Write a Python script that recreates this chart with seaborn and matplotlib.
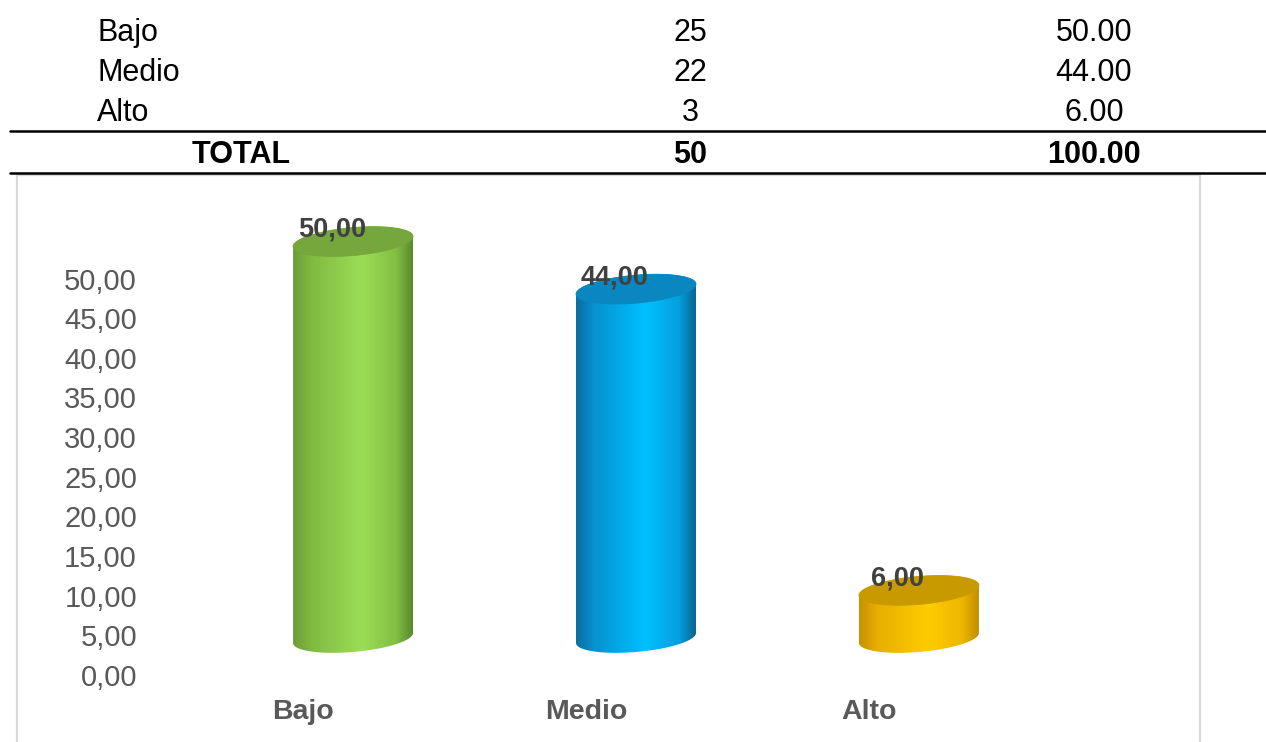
import numpy as np
import pandas as pd
import matplotlib
matplotlib.use("Agg")
import matplotlib.pyplot as plt
import seaborn as sns
from matplotlib.patches import Polygon, Rectangle
from matplotlib.lines import Line2D
from matplotlib.colors import LinearSegmentedColormap
from matplotlib.transforms import ScaledTranslation
from matplotlib.ticker import FuncFormatter, FixedLocator

# ---- data -------------------------------------------------------------
categories = ["Bajo", "Medio", "Alto"]
counts = [25, 22, 3]
percentages = [50.00, 44.00, 6.00]
total_label = "TOTAL"
total_count = 50
total_pct = 100.00
y_ticks = [0, 5, 10, 15, 20, 25, 30, 35, 40, 45, 50]

# cylinder side gradients (left edge -> highlight -> right edge) and lid colours
side_stops = {
    "Bajo":  [(0.0, "#6C9C36"), (0.15, "#80BA42"), (0.58, "#9CDD56"), (0.86, "#82BF44"), (1.0, "#5C882C")],
    "Medio": [(0.0, "#0A6DA0"), (0.15, "#0791D0"), (0.58, "#00C0FF"), (0.86, "#04A0DE"), (1.0, "#0A638F")],
    "Alto":  [(0.0, "#C69200"), (0.15, "#E6AE00"), (0.58, "#FFCC00"), (0.86, "#EDB700"), (1.0, "#C18C00")],
}
lid_colors = {"Bajo": "#75A73C", "Medio": "#0A87C0", "Alto": "#C89A00"}

sns.set_theme(style="white")
plt.rcParams["font.family"] = ["Liberation Sans", "DejaVu Sans"]

W, H = 1266, 742
fig = plt.figure(figsize=(W / 100, H / 100), dpi=100)


def fx(px):
    return px / W


def fy(py):
    return 1 - py / H


def dec_comma(v, _=None):
    return f"{v:.2f}".replace(".", ",")


# ---- summary table above the chart ------------------------------------
TABLE_FS = 22
for i, (cat, n, p) in enumerate(zip(categories, counts, percentages)):
    yy = fy(33 + 40 * i)
    fig.text(fx(97), yy, cat, ha="left", va="center", fontsize=TABLE_FS, color="black")
    fig.text(fx(690), yy, f"{n}", ha="center", va="center", fontsize=TABLE_FS, color="black")
    fig.text(fx(1094), yy, f"{p:.2f}", ha="center", va="center", fontsize=TABLE_FS, color="black")
fig.text(fx(241), fy(155), total_label, ha="center", va="center", fontsize=TABLE_FS,
         fontweight="bold", color="black")
fig.text(fx(690), fy(155), f"{total_count}", ha="center", va="center", fontsize=TABLE_FS,
         fontweight="bold", color="black")
fig.text(fx(1094), fy(155), f"{total_pct:.2f}", ha="center", va="center", fontsize=TABLE_FS,
         fontweight="bold", color="black")
for yline in (131, 173):
    fig.add_artist(Line2D([fx(10), 1.0], [fy(yline), fy(yline)], color="black", lw=1.8,
                          transform=fig.transFigure))

# chart frame
fig.add_artist(Rectangle((fx(17), -0.02), fx(1200) - fx(17), fy(175) + 0.02,
                         transform=fig.transFigure, fill=False, edgecolor="#D9D9D9", lw=1.6))

# ---- chart axes ---------------------------------------------------------
AX_L, AX_R, AX_T, AX_B = 140, 1190, 180, 680
rect = [fx(AX_L), fy(AX_B), (AX_R - AX_L) / W, (AX_B - AX_T) / H]
ylim = (-5.30, 57.76)
xlim = (-0.753, 2.958)
ppu = (AX_B - AX_T) / (ylim[1] - ylim[0])       # pixels per data unit (vertical)
floor_shift = 37 / ppu                           # depth offset between wall scale and bars

ax_wall = fig.add_axes(rect)
ax = fig.add_axes(rect)
ax_wall.set_zorder(0)
ax.set_zorder(1)
ax.patch.set_visible(False)

df = pd.DataFrame({"nivel": categories, "pct": percentages})
BAR_W = 0.424
sns.barplot(data=df, x="nivel", y="pct", ax=ax, width=BAR_W, color="#9CDD56",
            saturation=1, errorbar=None)

lid_half_px = 14      # half height of the elliptical lids
tilt_px = 10          # rise of the lid from left to right end
t = np.linspace(0, 2 * np.pi, 200)

for patch, cat, val in zip(ax.patches, categories, percentages):
    x0, w, h = patch.get_x(), patch.get_width(), patch.get_height()
    patch.set_visible(False)
    cx, a = x0 + w / 2, w / 2
    b = lid_half_px / ppu
    s = (tilt_px / ppu) / w

    def ell(theta, cy):
        ex = cx + a * np.cos(theta)
        ey = cy + b * np.sin(theta) + s * (ex - cx)
        return ex, ey

    # side outline: lower half of base, right side, top lid, left side
    tb = np.linspace(np.pi, 2 * np.pi, 80)
    bx, by = ell(tb, 0)
    tt = np.linspace(0, np.pi, 80)
    tx, ty = ell(tt, h)
    body_xy = np.column_stack([np.concatenate([bx, tx]), np.concatenate([by, ty])])
    body = Polygon(body_xy, closed=True, facecolor="none", edgecolor="none", zorder=2)
    ax.add_patch(body)

    cmap = LinearSegmentedColormap.from_list(cat, side_stops[cat])
    grad = np.linspace(0, 1, 256)[None, :]
    img = ax.imshow(grad, cmap=cmap, aspect="auto", interpolation="bicubic",
                    extent=(cx - a, cx + a, by.min() - 1, ty.max() + 1), zorder=2)
    img.set_clip_path(body)

    lx, ly = ell(t, h)
    ax.add_patch(Polygon(np.column_stack([lx, ly]), closed=True,
                         facecolor=lid_colors[cat], edgecolor=lid_colors[cat], lw=0.6, zorder=3))

    ax.annotate(dec_comma(val), xy=(cx, h), xytext=(-21 * 0.72, 12 * 0.72),
                textcoords="offset points", ha="center", va="center", fontsize=19.5,
                fontweight="bold", color="#404040", zorder=5)

ax.set_xlim(*xlim)
ax.set_ylim(*ylim)
ax.set_xlabel("")
ax.set_ylabel("")
ax.set_yticks([])
ax.set_xticks(range(len(categories)))
ax.set_xticklabels(categories, fontsize=20.5, fontweight="bold", color="#595959")
ax.tick_params(axis="x", length=0, pad=13.8)
shift = ScaledTranslation(-0.50, 0, fig.dpi_scale_trans)
for lbl in ax.get_xticklabels():
    lbl.set_transform(lbl.get_transform() + shift)
for sp in ax.spines.values():
    sp.set_visible(False)

# value scale drawn on the back wall
ax_wall.set_ylim(ylim[0] + floor_shift, ylim[1] + floor_shift)
ax_wall.set_xlim(*xlim)
ax_wall.yaxis.set_major_locator(FixedLocator(y_ticks))
ax_wall.yaxis.set_major_formatter(FuncFormatter(dec_comma))
ax_wall.tick_params(axis="y", length=0, pad=2.2, labelsize=21, labelcolor="#595959")
ax_wall.set_xticks([])
ax_wall.patch.set_visible(False)
for sp in ax_wall.spines.values():
    sp.set_visible(False)

fig.savefig("out.png", dpi=100, facecolor="white")
